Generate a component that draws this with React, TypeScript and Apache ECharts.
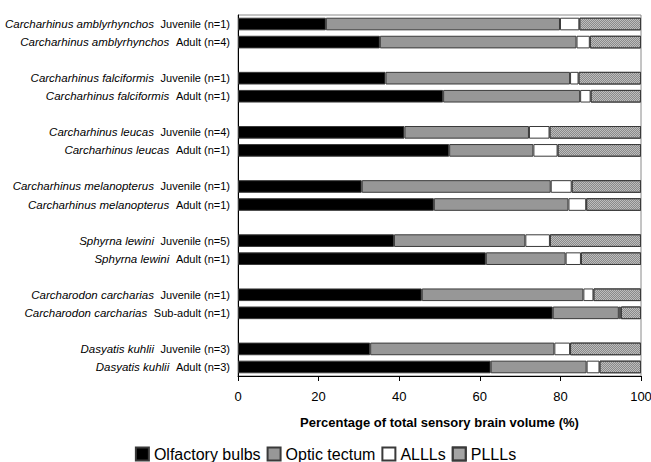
import React, { useEffect, useRef } from "react";
import * as echarts from "echarts";

const species = [
  "Carcharhinus amblyrhynchos", "Carcharhinus amblyrhynchos",
  "Carcharhinus falciformis", "Carcharhinus falciformis",
  "Carcharhinus leucas", "Carcharhinus leucas",
  "Carcharhinus melanopterus", "Carcharhinus melanopterus",
  "Sphyrna lewini", "Sphyrna lewini",
  "Carcharodon carcharias", "Carcharodon carcharias",
  "Dasyatis kuhlii", "Dasyatis kuhlii",
];
const stages = [
  "Juvenile (n=1)", "Adult (n=4)",
  "Juvenile (n=1)", "Adult (n=1)",
  "Juvenile (n=4)", "Adult (n=1)",
  "Juvenile (n=1)", "Adult (n=1)",
  "Juvenile (n=5)", "Adult (n=1)",
  "Juvenile (n=1)", "Sub-adult (n=1)",
  "Juvenile (n=3)", "Adult (n=3)",
];
const olfactoryBulbs = [21.8, 35.2, 36.6, 50.9, 41.3, 52.4, 30.7, 48.6, 38.7, 61.5, 45.6, 78.1, 32.8, 62.7];
const opticTectum = [58.1, 48.8, 45.8, 34.0, 30.9, 20.9, 46.9, 33.4, 32.6, 19.8, 40.1, 16.4, 45.7, 23.8];
const ALLLs = [4.8, 3.3, 2.1, 2.6, 5.1, 6.0, 5.2, 4.4, 6.1, 3.8, 2.5, 0.5, 3.9, 3.2];
const PLLLs = [15.3, 12.7, 15.5, 12.5, 22.7, 20.7, 17.2, 13.6, 22.6, 14.9, 11.8, 5.0, 17.6, 10.3];
const xTicks = [0, 20, 40, 60, 80, 100];

// insert an empty category between species pairs
function withGaps<T>(arr: T[], gap: T): T[] {
  const out: T[] = [];
  arr.forEach((v, i) => {
    out.push(v);
    if (i % 2 === 1 && i < arr.length - 1) out.push(gap);
  });
  return out;
}

export default function App() {
  const ref = useRef<HTMLDivElement>(null);
  useEffect(() => {
    if (!ref.current) return;
    const chart = echarts.init(ref.current, undefined, { renderer: "svg" });
    const cats = withGaps(
      species.map((s, i) => s + "|" + stages[i]),
      ""
    ).map((c, i) => (c === "" ? " ".repeat(i) : c));
    const font = "Liberation Sans, Arial, sans-serif";
    const mk = (name: string, data: number[], color: string, extra: any = {}) => ({
      name,
      type: "bar",
      stack: "all",
      barWidth: "70%",
      data: withGaps<number | null>(data, null),
      itemStyle: { color, borderColor: "#3a3a3a", borderWidth: 1, ...extra },
      emphasis: { disabled: true },
    });
    chart.setOption({
      animation: false,
      textStyle: { fontFamily: font },
      grid: {
        left: 238, right: 10, top: 15, bottom: 86,
        show: true, borderColor: "#8a8a8a", borderWidth: 1,
        containLabel: false, outerBoundsMode: "none",
      },
      legend: {
        top: 441,
        left: "center",
        itemWidth: 13,
        itemHeight: 13,
        itemGap: 6,
        icon: "rect",
        textStyle: { fontSize: 16, color: "#000", fontFamily: font },
        data: ["Olfactory bulbs", "Optic tectum", "ALLLs", "PLLLs"],
      },
      xAxis: {
        type: "value",
        min: 0,
        max: 100,
        interval: 20,
        name: "Percentage of total sensory brain volume (%)",
        nameLocation: "middle",
        nameGap: 40,
        nameTextStyle: { fontWeight: "bold", fontSize: 13, color: "#000" },
        axisLine: { show: true, lineStyle: { color: "#000" } },
        axisTick: { show: true, length: 5, lineStyle: { color: "#000" } },
        axisLabel: {
          fontSize: 13,
          color: "#000",
          margin: 14,
          formatter: (v: number) => (xTicks.includes(v) ? String(v) : ""),
        },
        splitLine: { show: false },
      },
      yAxis: {
        type: "category",
        inverse: true,
        data: cats,
        axisLine: { show: true, lineStyle: { color: "#000" } },
        axisTick: { show: false },
        axisLabel: {
          margin: 8,
          formatter: (v: string) => {
            if (!v.includes("|")) return "";
            const [sp, st] = v.split("|");
            return `{i|${sp}}  {n|${st}}`;
          },
          rich: {
            i: { fontStyle: "italic", fontSize: 11.5, color: "#000", fontFamily: font },
            n: { fontSize: 11, color: "#000", fontFamily: font },
          },
        },
      },
      series: [
        mk("Olfactory bulbs", olfactoryBulbs, "#000000"),
        mk("Optic tectum", opticTectum, "#979797"),
        mk("ALLLs", ALLLs, "#ffffff"),
        mk("PLLLs", PLLLs, "#bdbdbd", {
          decal: {
            symbol: "rect",
            symbolSize: 1,
            color: "#8a8a8a",
            backgroundColor: "#d4d4d4",
            dashArrayX: [[1, 1], [0, 1, 1, 0]],
            dashArrayY: [1, 0],
            rotation: 0,
          },
        }),
      ],
    });
    return () => chart.dispose();
  }, []);
  return (
    <div
      ref={ref}
      style={{ position: "absolute", left: 0, top: 0, width: 651, height: 462 }}
    />
  );
}
